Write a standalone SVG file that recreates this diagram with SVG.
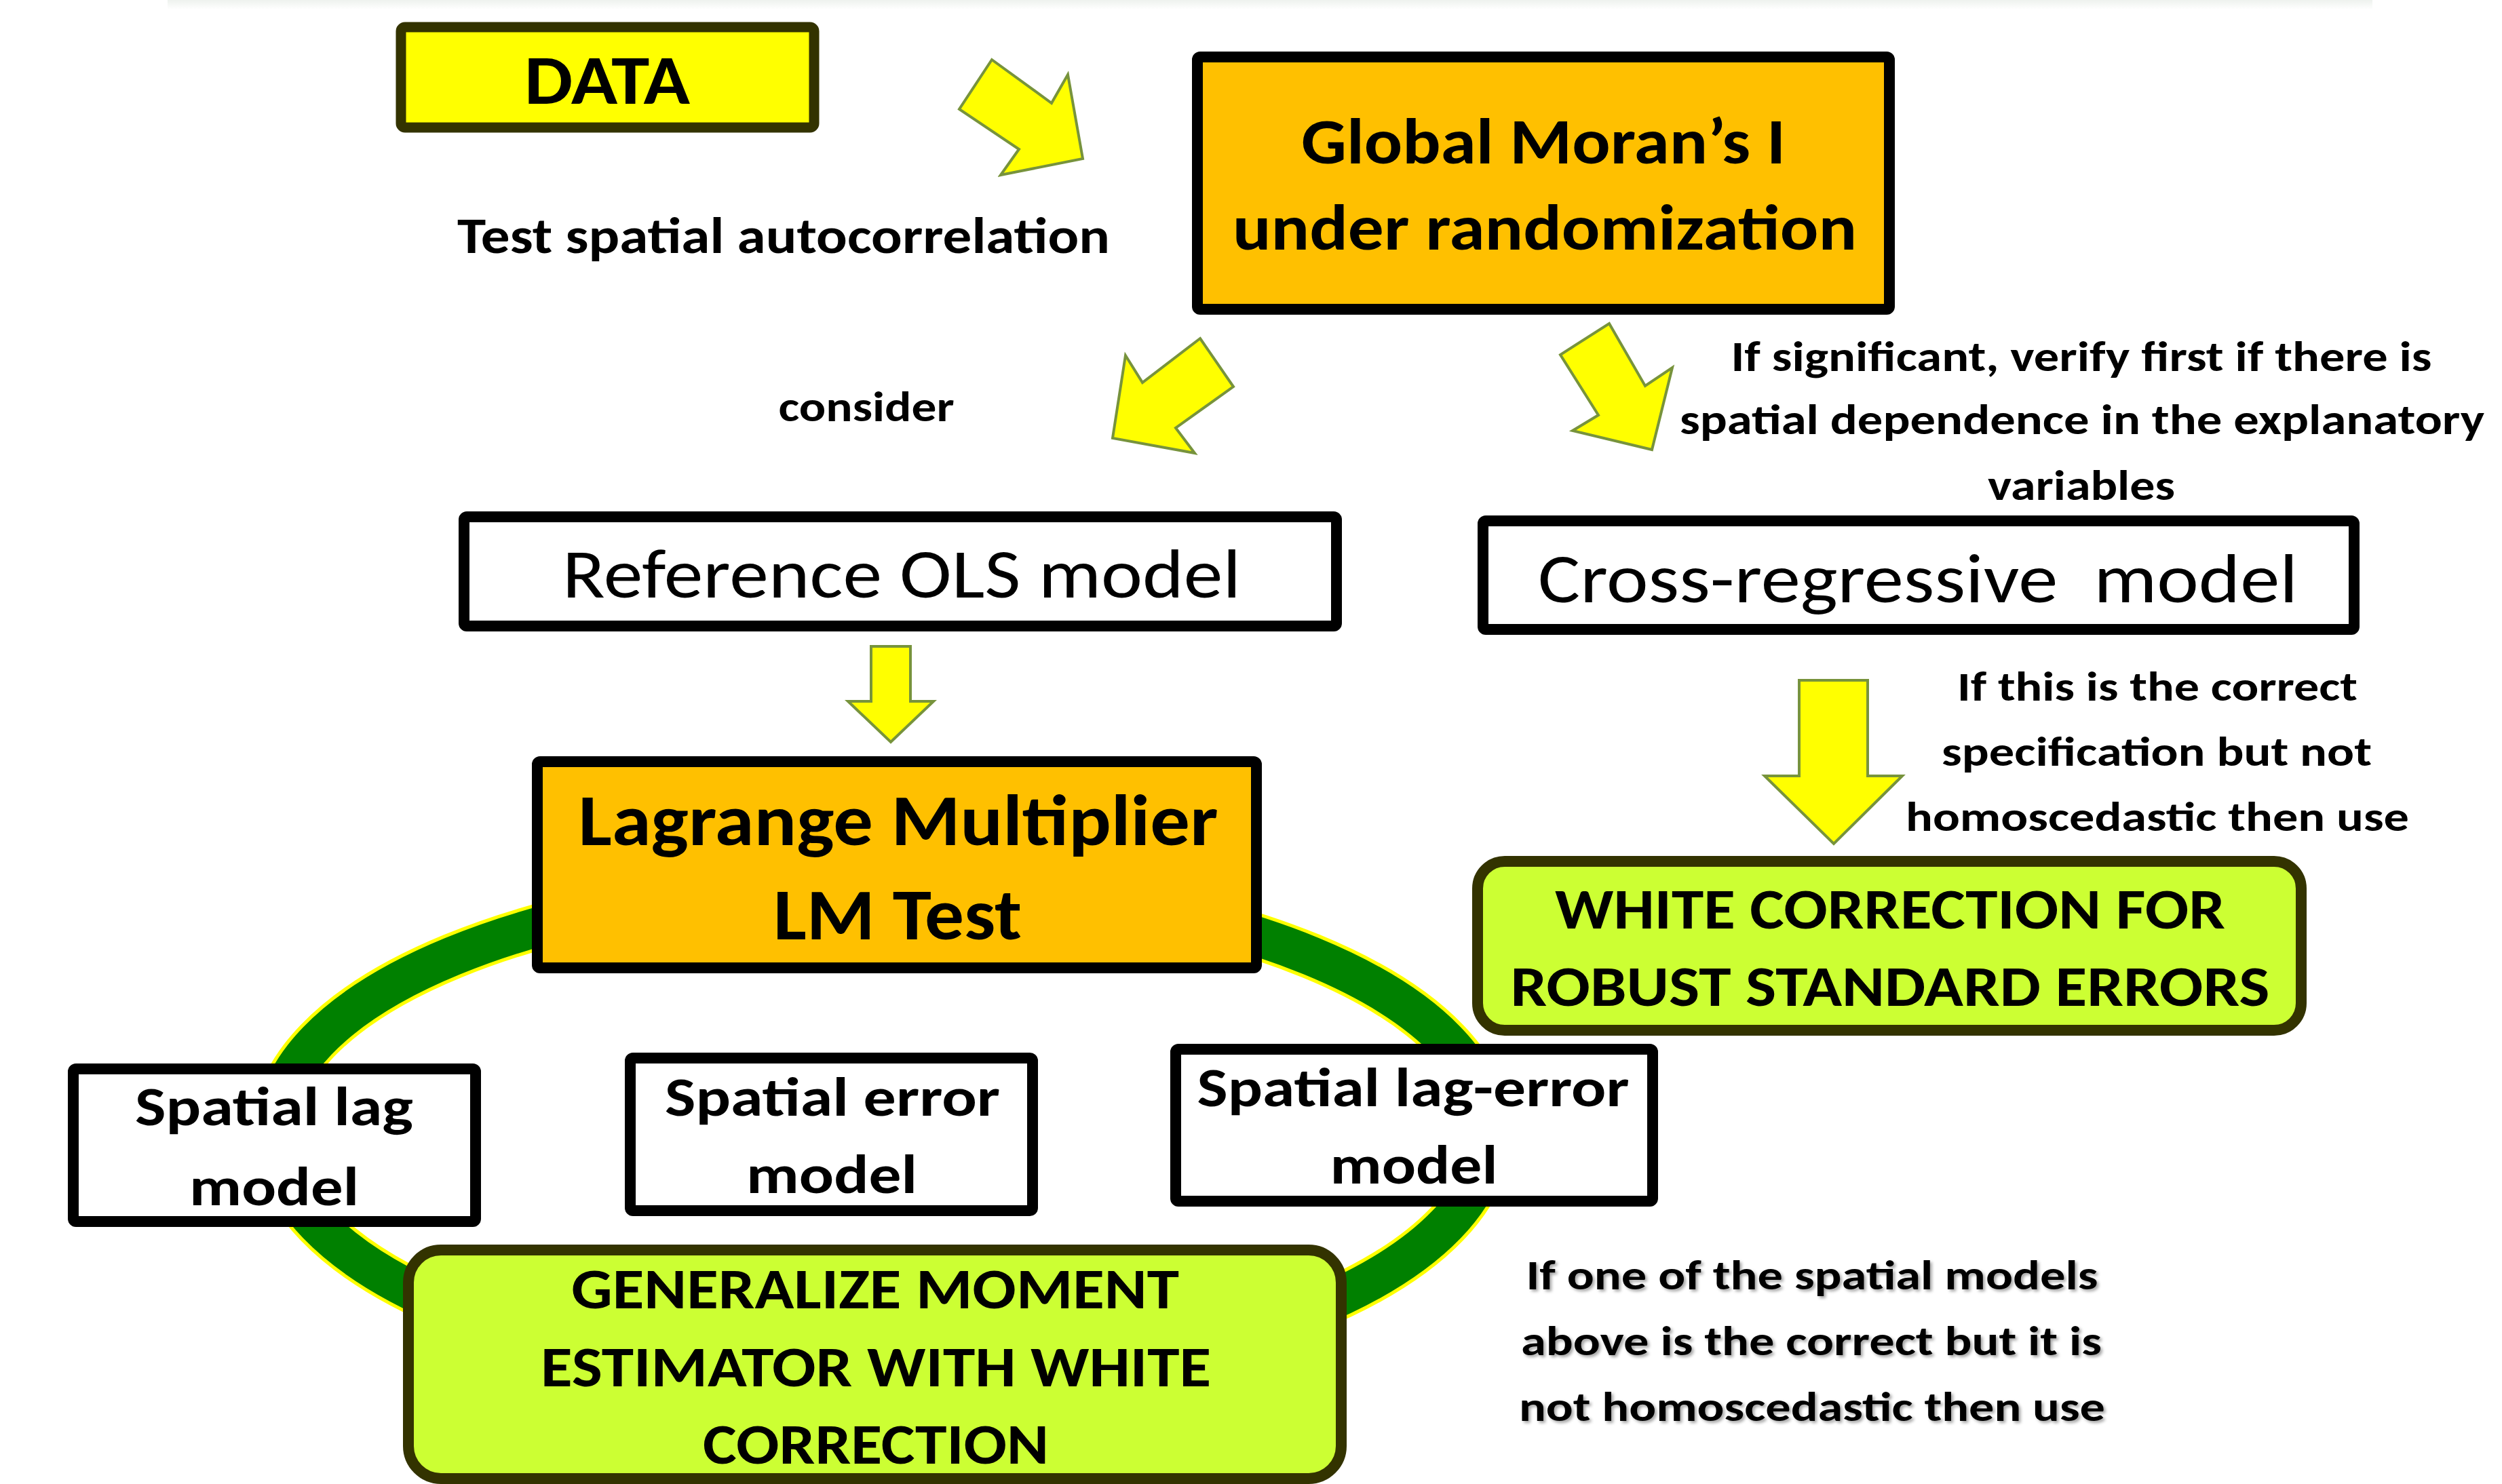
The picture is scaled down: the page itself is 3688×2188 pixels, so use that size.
<svg xmlns="http://www.w3.org/2000/svg" width="3688" height="2188" viewBox="0 0 3688 2188">
<defs>
<linearGradient id="topband" x1="0" y1="0" x2="0" y2="1">
<stop offset="0" stop-color="#eef2ee"/>
<stop offset="1" stop-color="#ffffff"/>
</linearGradient>
<filter id="shadow" x="-5%" y="-20%" width="110%" height="140%">
<feDropShadow dx="3" dy="3" stdDeviation="2" flood-color="#000" flood-opacity="0.35"/>
</filter>
</defs>
<style>
.t{font-family:Carlito,Lato,"Open Sans","Liberation Sans",sans-serif;fill:#000;text-anchor:middle}
.b{font-weight:700}
.r{font-weight:400}
.boxw{fill:#fff;stroke:#000;stroke-width:16;stroke-linejoin:round}
.boxo{fill:#FFC000;stroke:#000;stroke-width:16;stroke-linejoin:round}
.boxg{fill:#CCFF33;stroke:#333300;stroke-width:16}
.boxy{fill:#FFFF00;stroke:#333300;stroke-width:15;stroke-linejoin:round}
.arr{fill:#FFFF00;stroke:#77933C;stroke-width:4;stroke-linejoin:miter}
</style>
<rect x="0" y="0" width="3688" height="2188" fill="#fff"/>
<rect x="247" y="0" width="3250" height="14" fill="url(#topband)"/>

<g id="cycle">
<ellipse cx="1300" cy="1670" rx="895" ry="368" fill="none" stroke="#FFFF00" stroke-width="68"/>
<ellipse cx="1300" cy="1670" rx="895" ry="368" fill="none" stroke="#008000" stroke-width="58"/>
</g>

<g id="connectors">
<polygon class="arr" points="1462,88 1550,152 1574,110 1596,234 1475,258 1502,220 1414,161"/>
<polygon class="arr" points="2372,477 2425,569 2465,542 2435,663 2318,635 2356,612 2300,523"/>
<polygon class="arr" points="1769,499 1818,570 1733,631 1761,668 1640,646 1659,524 1684,564"/>
<polygon class="arr" points="1284,953 1342,953 1342,1034 1376,1034 1313,1094 1250,1034 1284,1034"/>
<polygon class="arr" points="2652,1003 2753,1003 2753,1144 2804,1144 2703,1244 2601,1144 2652,1144"/>
</g>

<g id="data">
<rect class="boxy" x="591" y="40" width="609" height="148" rx="6"/>
<text class="t b" x="895" y="153" font-size="103" textLength="244" lengthAdjust="spacingAndGlyphs">DATA</text>
</g>

<g id="label-test">
<text class="t b" x="1155" y="373" font-size="74" textLength="962" lengthAdjust="spacingAndGlyphs">Test spatial autocorrelation</text>
</g>

<g id="global-moran">
<rect class="boxo" x="1765" y="84" width="1020" height="372" rx="4"/>
<text class="t b" x="2275" y="241" font-size="95" textLength="714" lengthAdjust="spacingAndGlyphs">Global Moran’s I</text>
<text class="t b" x="2277" y="368" font-size="95" textLength="920" lengthAdjust="spacingAndGlyphs">under randomization</text>
</g>

<g id="label-consider">
<text class="t b" x="1277" y="621" font-size="62" textLength="259" lengthAdjust="spacingAndGlyphs">consider</text>
</g>

<g id="label-significant">
<text class="t b" x="3068" y="547" font-size="62" textLength="1033" lengthAdjust="spacingAndGlyphs">If significant, verify first if there is</text>
<text class="t b" x="3069" y="640" font-size="62" textLength="1186" lengthAdjust="spacingAndGlyphs">spatial dependence in the explanatory</text>
<text class="t b" x="3068" y="737" font-size="62" textLength="276" lengthAdjust="spacingAndGlyphs">variables</text>
</g>

<g id="ols">
<rect class="boxw" x="684" y="762" width="1286" height="161" rx="4"/>
<text class="t r" x="1329" y="881" font-size="103" textLength="1000" lengthAdjust="spacingAndGlyphs">Reference OLS model</text>
</g>

<g id="cross-regressive">
<rect class="boxw" x="2186" y="768" width="1284" height="160" rx="4"/>
<text class="t r" x="2827" y="888" font-size="102" textLength="1120" lengthAdjust="spacingAndGlyphs" xml:space="preserve">Cross-regressive  model</text>
</g>

<g id="label-correct-spec">
<text class="t b" x="3180" y="1033" font-size="60" textLength="590" lengthAdjust="spacingAndGlyphs">If this is the correct</text>
<text class="t b" x="3179" y="1129" font-size="60" textLength="634" lengthAdjust="spacingAndGlyphs">specification but not</text>
<text class="t b" x="3180" y="1225" font-size="60" textLength="742" lengthAdjust="spacingAndGlyphs">homoscedastic then use</text>
</g>

<g id="lm-test">
<rect class="boxo" x="792" y="1123" width="1060" height="304" rx="4"/>
<text class="t b" x="1324" y="1246" font-size="107" textLength="943" lengthAdjust="spacingAndGlyphs">Lagrange Multiplier</text>
<text class="t b" x="1323" y="1385" font-size="107" textLength="366" lengthAdjust="spacingAndGlyphs">LM Test</text>
</g>

<g id="white-correction">
<rect class="boxg" x="2178" y="1270" width="1214" height="249" rx="40"/>
<text class="t b" x="2786" y="1369" font-size="84" textLength="988" lengthAdjust="spacingAndGlyphs">WHITE CORRECTION FOR</text>
<text class="t b" x="2786" y="1483" font-size="84" textLength="1119" lengthAdjust="spacingAndGlyphs">ROBUST STANDARD ERRORS</text>
</g>

<g id="spatial-lag">
<rect class="boxw" x="108" y="1576" width="593" height="225" rx="4"/>
<text class="t b" x="404" y="1659" font-size="80" textLength="410" lengthAdjust="spacingAndGlyphs">Spatial lag</text>
<text class="t b" x="404" y="1777" font-size="80" textLength="250" lengthAdjust="spacingAndGlyphs">model</text>
</g>

<g id="spatial-error">
<rect class="boxw" x="929" y="1560" width="593" height="225" rx="4"/>
<text class="t b" x="1227" y="1645" font-size="80" textLength="494" lengthAdjust="spacingAndGlyphs">Spatial error</text>
<text class="t b" x="1226" y="1759" font-size="80" textLength="252" lengthAdjust="spacingAndGlyphs">model</text>
</g>

<g id="spatial-lag-error">
<rect class="boxw" x="1733" y="1547" width="703" height="224" rx="4"/>
<text class="t b" x="2083" y="1631" font-size="80" textLength="637" lengthAdjust="spacingAndGlyphs">Spatial lag-error</text>
<text class="t b" x="2084" y="1745" font-size="80" textLength="247" lengthAdjust="spacingAndGlyphs">model</text>
</g>

<g id="gmm">
<rect class="boxg" x="602" y="1843" width="1375" height="337" rx="48"/>
<text class="t b" x="1290" y="1929" font-size="84" textLength="896" lengthAdjust="spacingAndGlyphs">GENERALIZE MOMENT</text>
<text class="t b" x="1291" y="2044" font-size="84" textLength="988" lengthAdjust="spacingAndGlyphs">ESTIMATOR WITH WHITE</text>
<text class="t b" x="1291" y="2158" font-size="84" textLength="510" lengthAdjust="spacingAndGlyphs">CORRECTION</text>
</g>

<g id="label-spatial-models" filter="url(#shadow)">
<text class="t b" x="2671" y="1901" font-size="61" textLength="843" lengthAdjust="spacingAndGlyphs">If one of the spatial models</text>
<text class="t b" x="2670" y="1998" font-size="61" textLength="856" lengthAdjust="spacingAndGlyphs">above is the correct but it is</text>
<text class="t b" x="2671" y="2095" font-size="61" textLength="864" lengthAdjust="spacingAndGlyphs">not homoscedastic then use</text>
</g>
</svg>
